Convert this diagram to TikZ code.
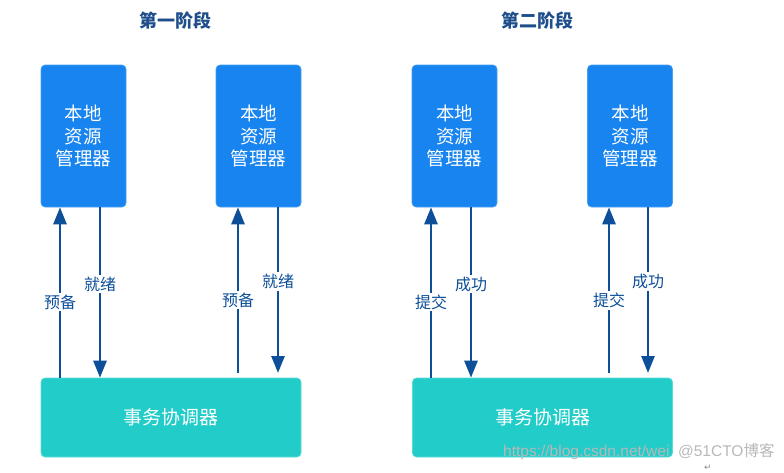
\documentclass[tikz,border=0pt]{standalone}
\usepackage{fontspec}
\setmainfont{Noto Sans CJK SC}
\newfontfamily\wmfont{Liberation Sans}
\newfontfamily\cjkfont{Noto Sans CJK SC}
\newfontfamily\symfont{DejaVu Sans}
\usetikzlibrary{arrows.meta}
\definecolor{rmblue}{RGB}{24,132,240}
\definecolor{rmedge}{RGB}{70,160,245}
\definecolor{coteal}{RGB}{33,204,201}
\definecolor{coedge}{RGB}{90,220,215}
\definecolor{arrblue}{RGB}{13,79,152}
\definecolor{ttlblue}{RGB}{30,78,140}
\tikzset{
  rmbox/.style={draw=rmedge, line width=0.6pt, fill=rmblue, rounded corners=4pt,
    minimum width=85pt, minimum height=142pt, inner sep=0pt, text=white,
    align=center, font=\fontsize{18.5}{22.5}\selectfont},
  cobox/.style={draw=coedge, line width=0.6pt, fill=coteal, rounded corners=4pt,
    minimum width=260pt, minimum height=79pt, inner sep=0pt, text=white,
    font=\fontsize{19}{22}\selectfont},
  ttl/.style={text=ttlblue, font=\fontsize{18}{20}\selectfont\bfseries},
  arr/.style={draw=arrblue, line width=2.6pt, -{Triangle[length=17pt,width=13pt]}},
  lbl/.style={fill=white, text=arrblue, inner xsep=1pt, inner ysep=2pt,
    font=\fontsize{16}{18}\selectfont},
  wm/.style={text=black!28, font=\wmfont\fontsize{15.5}{17}\selectfont, inner sep=0pt, anchor=west}
}
\begin{document}
\begin{tikzpicture}[x=1pt, y=-1pt]
\useasboundingbox (0,0) rectangle (784,472);
% titles
\node[ttl] (t1) at (175,21) {第一阶段};
\node[ttl] (t2) at (537,21) {第二阶段};
% resource managers
\node[rmbox] (rm1) at (83.5,136) {本地\\资源\\管理器};
\node[rmbox] (rm2) at (258.5,136) {本地\\资源\\管理器};
\node[rmbox] (rm3) at (454.5,136) {本地\\资源\\管理器};
\node[rmbox] (rm4) at (630,136) {本地\\资源\\管理器};
% coordinators
\node[cobox] (co1) at (171,417.5) {事务协调器};
\node[cobox] (co2) at (542.5,417.5) {事务协调器};
% arrow x positions
\coordinate (a1) at (60,0);  \coordinate (b1) at (100,0);
\coordinate (a2) at (238,0); \coordinate (b2) at (278,0);
\coordinate (a3) at (431,0); \coordinate (b3) at (471,0);
\coordinate (a4) at (609,0); \coordinate (b4) at (648,0);
\coordinate (s2) at (0,373);
% phase 1
\draw[arr] (a1 |- co1.north) -- node[lbl, pos=0.444] {预备} (a1 |- rm1.south);
\draw[arr] (b1 |- rm1.south) -- node[lbl, pos=0.45] {就绪} (b1 |- co1.north);
\draw[arr] (a2 |- s2) -- node[lbl, pos=0.44] {预备} (a2 |- rm2.south);
\draw[arr] (b2 |- rm2.south) -- node[lbl, pos=0.45] {就绪} (b2 |- s2);
% phase 2
\draw[arr] (a3 |- co2.north) -- node[lbl, pos=0.444] {提交} (a3 |- rm3.south);
\draw[arr] (b3 |- rm3.south) -- node[lbl, pos=0.45] {成功} (b3 |- co2.north);
\draw[arr] (a4 |- s2) -- node[lbl, pos=0.44] {提交} (a4 |- rm4.south);
\draw[arr] (b4 |- rm4.south) -- node[lbl, pos=0.45] {成功} (b4 |- s2);
% watermark
\node[wm] (wm1) at (503,452) {https://blog.csdn.net/wei \ @51CTO{\cjkfont 博客}};
\node[text=black!45, font=\symfont\fontsize{9}{10}\selectfont, inner sep=0pt] (wm2) at (708,468) {↵};
\end{tikzpicture}
\end{document}
